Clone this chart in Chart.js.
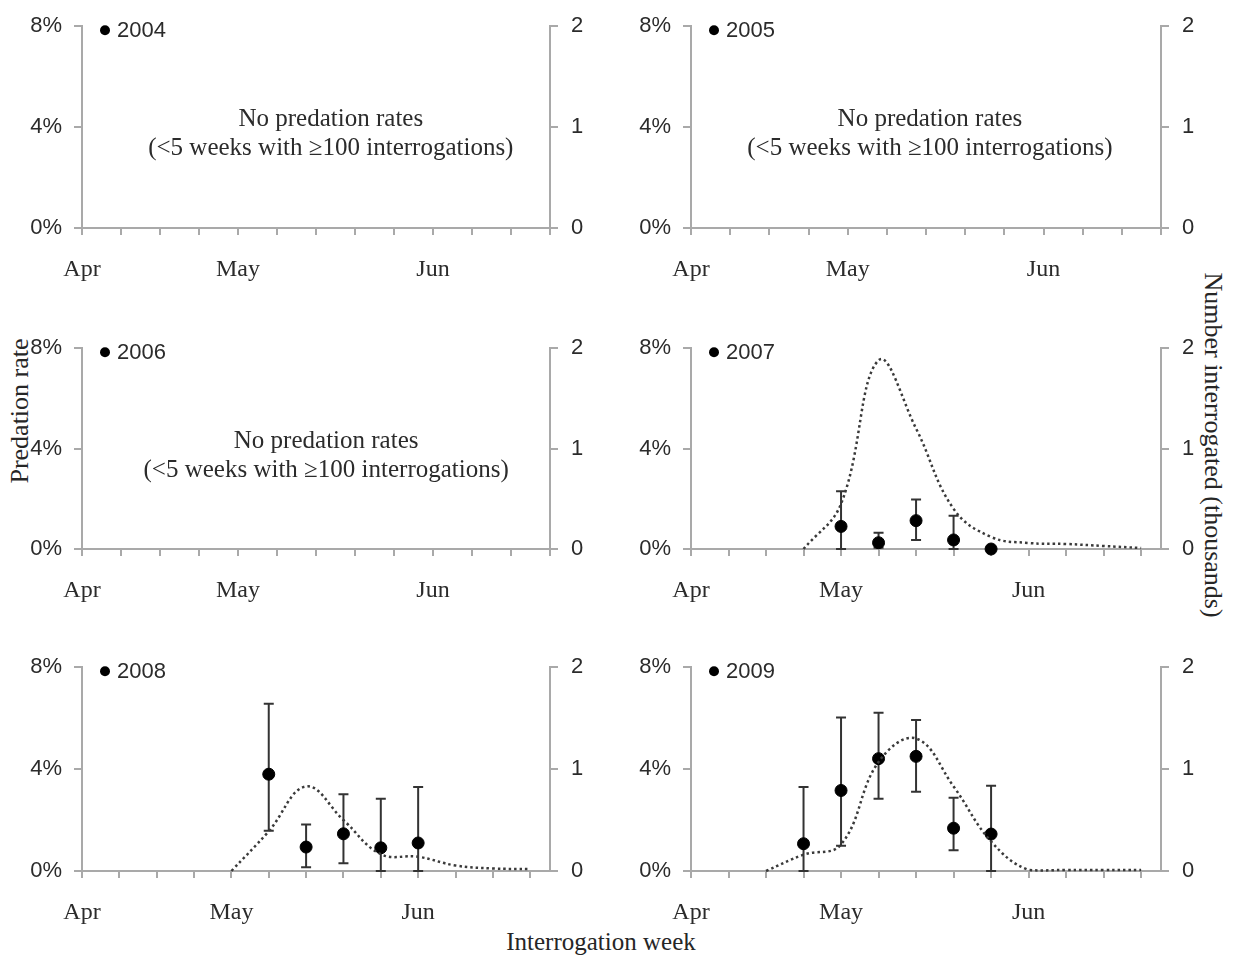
<!DOCTYPE html>
<html>
<head>
<meta charset="utf-8">
<script src="https://cdn.jsdelivr.net/npm/chart.js@4.4.1/dist/chart.umd.min.js"></script>
<style>
body { margin: 0; background: #fff; width: 1235px; height: 956px; position: relative; overflow: hidden; }
canvas { position: absolute; }
.ttl { position: absolute; font-family: "Liberation Serif", serif; font-size: 26px; color: #262626; white-space: nowrap; line-height: 1; }
</style>
</head>
<body>
<div class="ttl" style="left:20px;top:411px;transform:translate(-50%,-50%) rotate(-90deg);">Predation rate</div>
<div class="ttl" style="left:1213px;top:445px;transform:translate(-50%,-50%) rotate(90deg);">Number interrogated (thousands)</div>
<div class="ttl" style="left:601px;top:941px;font-size:25px;transform:translate(-50%,-50%);">Interrogation week</div>
<script>
// weekly ticks, months at week 0, 4 and 9
var weekTicks = [0, 1, 2, 3, 4, 5, 6, 7, 8, 9, 10, 11, 12];
var monthWeeks = [0, 4, 9];
var monthNames = ['Apr', 'May', 'Jun'];
var rateTicks = [0, 4, 8];
var countTicks = [0, 1, 2];
var noteLines = ['No predation rates', '(<5 weeks with \u2265100 interrogations)'];

// 2007
var count2007Weeks = [3, 4, 5, 6, 7, 8, 9, 10, 11, 12];
var count2007 = [0, 0.45, 1.88, 1.2, 0.40, 0.12, 0.06, 0.05, 0.03, 0.01];
var rate2007Weeks = [4, 5, 6, 7, 8];
var rate2007 = [0.9, 0.25, 1.13, 0.36, 0];
var rate2007Lo = [0, 0.05, 0.36, 0, null];
var rate2007Hi = [2.3, 0.65, 1.97, 1.32, null];

// 2008
var count2008Weeks = [4, 5, 6, 7, 8, 9, 10, 11, 12];
var count2008 = [0, 0.39, 0.83, 0.50, 0.165, 0.14, 0.054, 0.025, 0.02];
var rate2008Weeks = [5, 6, 7, 8, 9];
var rate2008 = [3.8, 0.94, 1.46, 0.91, 1.1];
var rate2008Lo = [1.58, 0.15, 0.30, 0, 0];
var rate2008Hi = [6.57, 1.83, 3.01, 2.84, 3.3];

// 2009
var count2009Weeks = [2, 3, 4, 5, 6, 7, 8, 9, 10, 11, 12];
var count2009 = [0, 0.16, 0.26, 1.07, 1.30, 0.83, 0.29, 0.01, 0.01, 0.01, 0.01];
var rate2009Weeks = [3, 4, 5, 6, 7, 8];
var rate2009 = [1.07, 3.16, 4.41, 4.5, 1.68, 1.45];
var rate2009Lo = [0, 0.99, 2.84, 3.11, 0.81, 0];
var rate2009Hi = [3.3, 6.03, 6.21, 5.93, 2.88, 3.35];

var axisGrey = '#a9a9a9';
var textCol = '#2b2b2b';

var cols = [{left: 0, width: 600, plotL: 82, plotR: 550}, {left: 608, width: 627, plotL: 691, plotR: 1161}];
var rows = [{top: 20, bottom: 228}, {top: 342, bottom: 549}, {top: 661, bottom: 871}];

var panels = [
    {year: '2004', col: 0, row: 0, xMax: 12, noteX: 6.38},
    {year: '2005', col: 1, row: 0, xMax: 12, noteX: 6.1},
    {year: '2006', col: 0, row: 1, xMax: 12, noteX: 6.26},
    {year: '2007', col: 1, row: 1, xMax: 12.53, cw: count2007Weeks, c: count2007, rw: rate2007Weeks, r: rate2007, lo: rate2007Lo, hi: rate2007Hi},
    {year: '2008', col: 0, row: 2, xMax: 12.53, cw: count2008Weeks, c: count2008, rw: rate2008Weeks, r: rate2008, lo: rate2008Lo, hi: rate2008Hi},
    {year: '2009', col: 1, row: 2, xMax: 12.53, cw: count2009Weeks, c: count2009, rw: rate2009Weeks, r: rate2009, lo: rate2009Lo, hi: rate2009Hi}
];

function toXY(xs, ys) {
    var out = [];
    for (var i = 0; i < xs.length; i++) out.push({x: xs[i], y: ys[i]});
    return out;
}

function decorPlugin(p) {
    return {
        id: 'decor',
        beforeDatasetsDraw: function(chart) {
            if (!p.lo) return;
            var ctx = chart.ctx, xs = chart.scales.x, ys = chart.scales.y;
            ctx.save();
            ctx.strokeStyle = '#333';
            ctx.lineWidth = 2;
            for (var i = 0; i < p.rw.length; i++) {
                if (p.lo[i] == null) continue;
                var x = xs.getPixelForValue(p.rw[i]);
                var yl = ys.getPixelForValue(p.lo[i]);
                var yh = ys.getPixelForValue(p.hi[i]);
                ctx.beginPath();
                ctx.moveTo(x, yl); ctx.lineTo(x, yh);
                ctx.moveTo(x - 5, yh); ctx.lineTo(x + 5, yh);
                ctx.moveTo(x - 5, yl); ctx.lineTo(x + 5, yl);
                ctx.stroke();
            }
            ctx.restore();
        },
        afterDraw: function(chart) {
            var ctx = chart.ctx, a = chart.chartArea;
            ctx.save();
            // legend entry
            ctx.fillStyle = '#000';
            ctx.beginPath();
            ctx.arc(a.left + 23, a.top + 4, 5, 0, Math.PI * 2);
            ctx.fill();
            ctx.fillStyle = textCol;
            ctx.font = '22px "Liberation Sans", Arial, sans-serif';
            ctx.textBaseline = 'middle';
            ctx.textAlign = 'left';
            ctx.fillText(p.year, a.left + 35, a.top + 5);
            if (p.noteX != null) {
                var xs = chart.scales.x, ys = chart.scales.y;
                var nx = xs.getPixelForValue(p.noteX);
                var ny = ys.getPixelForValue(4.3);
                ctx.font = '25px "Liberation Serif", "Times New Roman", serif';
                ctx.textAlign = 'center';
                ctx.fillText(noteLines[0], nx, ny);
                ctx.fillText(noteLines[1], nx, ny + 29);
            }
            ctx.restore();
        }
    };
}

panels.forEach(function(p) {
    var c = cols[p.col], r = rows[p.row];
    var cv = document.createElement('canvas');
    var h = 20 + (r.bottom - r.top) + 62;
    cv.width = c.width;
    cv.height = h;
    cv.style.left = c.left + 'px';
    cv.style.top = (r.top - 20) + 'px';
    document.body.appendChild(cv);

    var leftW = c.plotL - c.left;
    var rightW = c.width - (c.plotR - c.left);

    var datasets = [];
    if (p.c) {
        datasets.push({
            type: 'line',
            label: 'Number interrogated',
            data: toXY(p.cw, p.c),
            yAxisID: 'y1',
            borderColor: '#3a3a3a',
            borderWidth: 2.5,
            borderDash: [2.5, 3],
            pointRadius: 0,
            tension: 0.4,
            fill: false,
            clip: false
        });
        datasets.push({
            type: 'scatter',
            label: p.year,
            data: toXY(p.rw, p.r),
            yAxisID: 'y',
            backgroundColor: '#000',
            borderColor: '#000',
            pointRadius: 6,
            clip: false
        });
    } else {
        datasets.push({type: 'scatter', label: p.year, data: [], yAxisID: 'y'});
        datasets.push({type: 'line', label: 'Number interrogated', data: [], yAxisID: 'y1'});
    }

    var gridOpts = {drawOnChartArea: false, drawTicks: true, tickLength: 8, color: axisGrey, lineWidth: 2};
    var borderOpts = {display: true, color: axisGrey, width: 2};

    new Chart(cv, {
        type: 'line',
        data: {datasets: datasets},
        options: {
            responsive: false,
            animation: false,
            layout: {padding: {top: 20, left: 0, right: 0, bottom: 0}},
            plugins: {legend: {display: false}, tooltip: {enabled: false}},
            scales: {
                x: {
                    type: 'linear',
                    min: 0,
                    max: p.xMax,
                    afterBuildTicks: function(scale) {
                        scale.ticks = weekTicks.map(function(v) { return {value: v}; });
                    },
                    afterFit: function(scale) { scale.height = 62; },
                    ticks: {
                        autoSkip: false,
                        maxRotation: 0,
                        padding: 20,
                        color: textCol,
                        font: {family: '"Liberation Serif", "Times New Roman", serif', size: 24},
                        callback: function(v) {
                            var k = monthWeeks.indexOf(v);
                            return k >= 0 ? monthNames[k] : '';
                        }
                    },
                    grid: {drawOnChartArea: false, drawTicks: true, tickLength: 7, color: axisGrey, lineWidth: 2},
                    border: borderOpts
                },
                y: {
                    position: 'left',
                    min: 0,
                    max: 8,
                    afterBuildTicks: function(scale) {
                        scale.ticks = rateTicks.map(function(v) { return {value: v}; });
                    },
                    afterFit: function(scale) { scale.width = leftW; },
                    ticks: {
                        padding: 12,
                        color: textCol,
                        font: {family: '"Liberation Sans", Arial, sans-serif', size: 22},
                        callback: function(v) { return v + '%'; }
                    },
                    grid: gridOpts,
                    border: borderOpts
                },
                y1: {
                    position: 'right',
                    min: 0,
                    max: 2,
                    afterBuildTicks: function(scale) {
                        scale.ticks = countTicks.map(function(v) { return {value: v}; });
                    },
                    afterFit: function(scale) { scale.width = rightW; },
                    ticks: {
                        padding: 13,
                        color: textCol,
                        font: {family: '"Liberation Sans", Arial, sans-serif', size: 22}
                    },
                    grid: gridOpts,
                    border: borderOpts
                }
            }
        },
        plugins: [decorPlugin(p)]
    });
});
</script>
</body>
</html>
